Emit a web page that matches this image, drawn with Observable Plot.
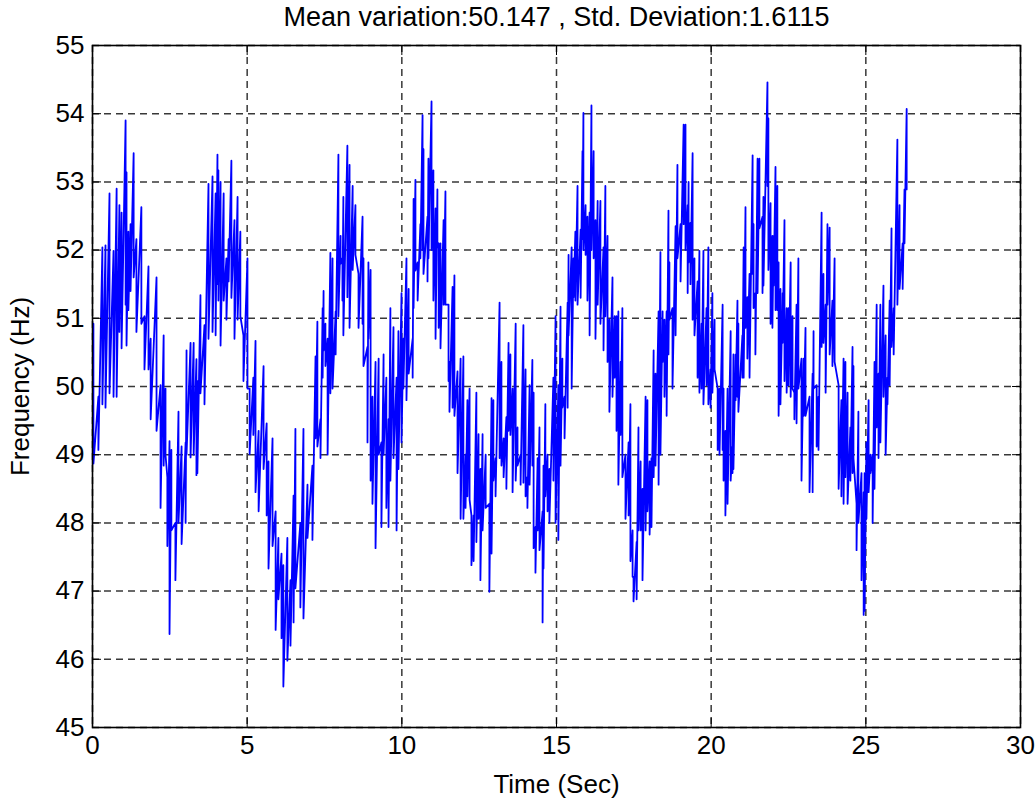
<!DOCTYPE html>
<html>
<head>
<meta charset="utf-8">
<script src="https://cdn.jsdelivr.net/npm/d3@7"></script>
<script src="https://cdn.jsdelivr.net/npm/@observablehq/plot@0.6"></script>
<style>
  html, body { margin: 0; padding: 0; background: #fff; }
  #chart svg { display: block; }
</style>
</head>
<body>
<div id="chart"></div>
<script>
const titleText = "Mean variation:50.147 , Std. Deviation:1.6115";
const xLabel = "Time (Sec)";
const yLabel = "Frequency (Hz)";
const xTicks = [0, 5, 10, 15, 20, 25, 30];
const yTicks = [45, 46, 47, 48, 49, 50, 51, 52, 53, 54, 55];

// time of each stroke (s)
const timeSec = [
0.03,0.19,0.32,0.42,0.55,0.68,0.78,0.87,0.94,1.07,1.10,1.16,1.23,1.33,1.42,1.58,1.68,1.81,1.88,2.07,
2.20,2.30,2.36,2.42,2.49,2.55,2.68,2.78,2.88,3.01,3.04,3.17,3.27,3.36,
3.39,3.49,3.62,3.75,3.88,3.98,4.04,4.07,4.14,4.24,4.33,4.40,4.49,4.59,4.69,4.78,4.88,5.01,5.08,5.20,
5.27,5.37,5.53,5.63,5.69,5.82,5.92,6.01,6.11,6.17,6.30,6.40,6.50,6.56,6.72,
6.82,6.95,7.11,7.21,7.27,7.37,7.44,7.47,7.53,7.60,7.69,7.76,7.86,7.95,8.02,8.08,8.11,8.24,8.31,8.41,
8.50,8.60,8.73,8.76,8.89,8.92,8.99,9.05,9.15,9.25,9.34,9.41,9.50,9.57,9.63,9.73,9.83,9.89,9.99,10.05,
10.15,10.22,10.35,10.38,10.44,10.51,10.60,10.67,10.70,10.83,10.86,10.96,11.02,11.09,11.15,11.19,11.25,
11.35,11.41,11.51,11.54,11.64,11.70,11.80,11.90,11.99,12.06,12.12,12.19,12.25,12.32,12.41,12.48,12.54,
12.61,12.71,12.83,12.90,12.96,13.03,13.16,13.22,13.29,13.38,13.45,13.51,13.58,
13.68,13.74,13.84,13.93,14.00,14.06,14.13,14.22,14.26,14.32,14.39,14.45,14.55,14.58,14.64,14.71,14.77,
14.90,14.97,15.06,15.13,15.19,15.26,15.36,15.39,15.49,15.55,15.61,15.68,15.78,15.84,15.87,15.94,16.00,
16.07,16.13,16.20,16.26,16.33,16.42,16.52,16.58,16.65,16.71,16.81,16.88,16.94,
17.00,17.07,17.13,17.23,17.33,17.39,17.46,17.49,17.59,17.65,17.72,17.78,17.88,17.94,18.01,18.07,18.14,
18.20,18.30,18.36,18.43,18.49,18.56,18.62,18.65,18.75,18.85,18.91,19.01,19.11,19.17,19.24,19.27,19.33,
19.40,19.46,19.56,19.62,19.69,19.75,19.85,19.91,19.98,20.04,20.11,20.21,20.27,20.37,
20.40,20.46,20.53,20.63,20.69,20.72,20.79,20.85,20.88,21.01,21.05,21.11,21.17,21.24,21.34,21.37,21.43,
21.50,21.56,21.66,21.69,21.82,21.85,21.92,21.98,22.02,22.08,22.14,22.18,22.24,22.31,22.37,22.44,22.50,
22.57,22.63,22.69,22.76,22.82,22.92,22.99,23.05,23.18,23.28,23.31,23.41,23.47,23.57,23.63,23.70,23.76,23.83,
23.92,23.99,24.12,24.21,24.28,24.34,24.41,24.50,24.57,24.60,24.70,24.76,24.86,24.93,24.96,25.02,25.09,
25.15,25.22,25.28,25.35,25.41,25.47,25.57,25.64,25.70,25.77,25.83,25.90,26.02,26.09,26.19,26.25,26.32
];

// upper end of each stroke (Hz)
const freqHigh = [
50.92,49.85,52.04,52.07,52.83,51.99,52.90,52.66,52.55,53.90,53.14,52.27,52.38,53.42,52.16,52.63,51.03,51.76,50.70,51.60,
50.02,50.75,49.97,48.67,49.20,49.07,48.00,49.63,49.12,49.18,50.53,50.64,50.64,50.40,
50.08,51.34,50.90,52.97,53.08,52.83,53.40,53.17,53.00,52.83,51.88,52.16,53.31,52.44,52.78,52.27,50.75,51.88,49.97,50.13,
50.67,49.35,50.30,49.46,48.90,49.24,48.17,47.78,47.55,47.38,47.78,47.16,48.40,49.38,48.00,
49.38,48.56,48.84,50.44,50.95,49.52,51.15,51.40,50.92,50.70,51.96,51.88,51.10,53.40,52.21,51.88,52.78,53.53,53.25,52.94,
52.66,51.65,52.49,51.88,50.58,51.82,51.71,49.85,50.36,50.41,49.18,50.47,50.13,49.52,51.15,50.87,50.13,50.81,51.37,50.70,
51.88,51.43,50.70,52.75,53.03,51.82,52.38,53.98,53.48,52.49,53.34,54.18,53.17,52.61,52.89,52.10,52.10,
52.44,52.86,51.20,50.36,51.46,51.63,50.22,50.41,50.44,49.00,49.80,49.97,48.11,48.11,49.91,49.30,48.79,
49.30,49.00,48.28,49.83,49.80,48.95,51.23,50.36,49.24,49.55,50.64,50.47,49.97,
50.92,49.40,49.00,50.90,50.25,48.67,50.02,50.39,49.91,47.94,48.95,49.40,48.17,48.84,49.74,49.00,48.79,
50.13,51.03,50.02,51.17,50.41,49.85,51.23,51.93,52.04,51.88,52.27,52.94,52.30,53.45,54.01,52.66,52.49,
52.55,54.12,53.45,52.44,52.72,52.72,52.04,52.94,52.21,50.98,51.60,51.03,51.03,
51.10,50.36,51.15,49.00,49.18,49.74,47.89,47.21,47.72,49.40,48.90,48.50,49.85,49.80,48.90,48.95,50.53,
50.19,51.10,51.97,51.10,50.98,51.10,52.58,51.82,51.15,52.35,53.25,52.38,53.84,53.84,52.66,53.00,52.40,
53.42,51.88,51.54,51.99,50.92,51.99,51.15,52.04,50.25,51.37,50.98,49.97,49.97,51.20,
49.97,49.35,49.97,50.81,49.12,50.47,50.47,51.26,50.92,50.75,52.04,52.63,51.31,51.65,53.39,52.38,51.37,
53.34,53.34,52.49,52.78,54.46,53.93,52.69,52.21,52.21,53.22,52.94,51.82,51.43,51.37,52.44,51.15,51.15,
51.82,51.03,49.91,51.20,51.88,50.41,50.41,50.86,49.85,50.19,50.81,50.02,49.85,52.55,51.65,51.20,52.38,52.33,
51.26,51.88,50.02,49.80,50.41,50.36,49.91,49.40,50.58,50.30,48.28,49.63,48.73,48.45,48.73,49.18,49.80,
49.00,49.00,50.36,51.20,50.19,51.20,51.48,50.75,50.13,51.26,52.32,51.15,53.62,52.66,52.10,52.89,54.07
];

// lower end of each stroke (Hz)
const freqLow = [
48.87,49.07,49.74,49.69,49.90,49.85,49.85,50.80,50.56,51.20,50.60,51.12,51.40,51.60,50.80,50.92,50.25,50.25,49.52,49.35,
48.22,48.84,49.00,47.66,46.37,47.89,47.16,48.00,47.69,48.00,49.00,48.96,49.00,48.70,
48.73,49.90,49.74,50.70,50.80,50.75,51.50,51.26,50.60,51.26,50.98,51.54,51.30,50.70,50.98,51.03,50.08,49.97,49.01,49.29,
48.45,48.17,48.79,48.11,47.33,47.66,46.43,46.88,46.31,45.60,45.98,46.20,46.54,47.04,46.76,
46.60,47.78,47.75,49.24,49.12,48.95,50.13,50.53,50.30,49.00,49.90,49.97,50.47,51.03,51.80,51.26,50.75,51.31,50.86,51.71,
51.93,50.86,50.92,50.30,49.18,50.70,48.62,48.28,47.63,49.00,47.94,49.00,48.22,47.94,48.62,48.95,47.89,48.79,49.18,49.97,
49.80,50.19,50.13,51.15,51.70,51.26,51.88,52.00,51.65,51.54,51.88,52.00,51.26,50.70,52.04,50.86,50.56,
51.20,51.20,50.08,49.63,49.69,49.57,48.73,48.06,48.06,48.22,48.39,48.34,47.38,47.44,47.72,48.06,47.16,
47.89,48.22,46.99,47.55,48.62,48.39,48.95,48.84,48.67,48.50,49.35,49.29,48.45,
48.62,48.84,48.56,48.59,48.39,48.22,48.56,48.84,47.63,47.27,47.89,47.60,46.54,47.33,48.39,48.17,48.00,
48.62,48.00,47.75,48.84,49.69,49.24,49.69,50.75,49.97,51.31,51.26,51.20,51.30,52.16,52.00,51.93,51.26,
50.75,52.00,51.88,50.70,51.20,50.92,50.53,51.03,50.36,49.63,49.85,50.13,49.35,
48.56,49.29,48.67,48.06,48.11,47.44,47.21,46.85,46.88,47.89,47.89,47.16,47.89,48.17,47.83,47.94,48.67,
48.84,48.56,49.00,50.36,49.85,49.57,50.47,50.98,49.97,50.75,51.88,51.54,52.38,52.00,51.37,51.82,51.50,
50.98,50.75,50.13,49.91,49.97,49.74,50.02,49.74,49.69,49.91,50.25,49.07,49.00,49.07,
48.62,48.11,48.28,48.62,48.73,48.79,49.80,49.85,49.63,50.13,50.13,50.86,50.41,50.13,51.65,51.15,50.47,
51.37,52.32,51.37,51.48,52.94,51.71,50.92,50.86,51.48,51.12,51.12,49.57,49.74,50.64,50.08,49.91,50.02,
49.85,49.97,49.52,49.46,49.97,48.62,49.57,49.57,48.45,48.45,49.97,49.12,49.07,50.58,50.64,49.91,51.20,50.47,
50.30,50.36,48.50,48.39,48.28,48.67,48.28,48.62,48.73,48.95,47.60,48.00,47.16,46.65,46.71,48.06,48.45,
48.73,48.00,48.50,49.40,48.95,49.18,49.85,49.00,49.74,50.02,50.58,50.47,51.20,51.43,51.43,52.10,52.89
];

const samples = timeSec.flatMap((t, i) => [
  {t, f: freqHigh[i]},
  {t, f: freqLow[i]}
]);

const font = "'Liberation Sans', Arial, Helvetica, sans-serif";

const chart = Plot.plot({
  width: 1036,
  height: 801,
  marginLeft: 92,
  marginRight: 16,
  marginTop: 45,
  marginBottom: 74,
  style: {fontFamily: font, fontSize: "22px", color: "#000", background: "#fff"},
  x: {domain: [0, 30]},
  y: {domain: [45, 55]},
  marks: [
    Plot.gridX(xTicks, {stroke: "#222", strokeOpacity: 0.9, strokeWidth: 1.5, strokeDasharray: "7,5"}),
    Plot.gridY(yTicks, {stroke: "#222", strokeOpacity: 0.9, strokeWidth: 1.5, strokeDasharray: "7,5"}),
    Plot.line(samples, {x: "t", y: "f", stroke: "#0000ff", strokeWidth: 1.8}),
    Plot.frame({stroke: "#000", strokeWidth: 1.6}),
    Plot.axisX(xTicks, {tickSize: 0, tickPadding: 8, label: null, fontSize: 26, tickFormat: d3.format("d")}),
    Plot.axisY(yTicks, {tickSize: 0, tickPadding: 8, label: null, fontSize: 26, tickFormat: d3.format("d")}),
    Plot.axisX(xTicks, {anchor: "bottom", tickSize: -9, tickFormat: () => "", label: null}),
    Plot.axisX(xTicks, {anchor: "top", tickSize: -9, tickFormat: () => "", label: null}),
    Plot.axisY(yTicks, {anchor: "left", tickSize: -9, tickFormat: () => "", label: null}),
    Plot.axisY(yTicks, {anchor: "right", tickSize: -9, tickFormat: () => "", label: null}),
    Plot.text([titleText], {text: d => d, frameAnchor: "top", dy: -28, lineAnchor: "middle", textAnchor: "middle", fontSize: 27}),
    Plot.text([xLabel], {text: d => d, frameAnchor: "bottom", dy: 57, lineAnchor: "middle", textAnchor: "middle", fontSize: 26}),
    Plot.text([yLabel], {text: d => d, frameAnchor: "left", dx: -72, rotate: -90, lineAnchor: "middle", textAnchor: "middle", fontSize: 26})
  ]
});
document.getElementById("chart").appendChild(chart);
</script>
</body>
</html>
